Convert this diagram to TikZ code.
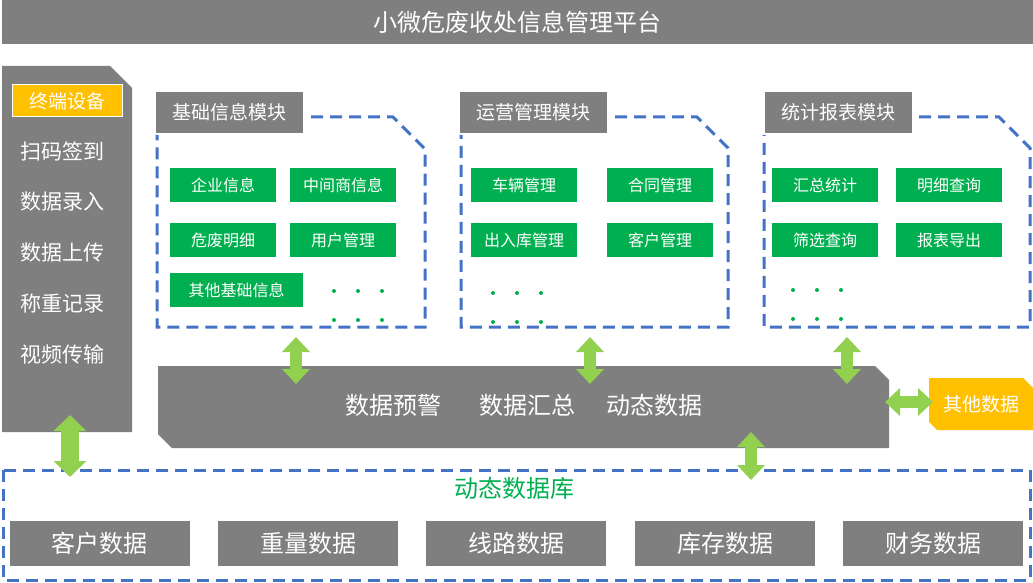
\documentclass[tikz,border=0pt]{standalone}
\usepackage{fontspec}
\setmainfont{Noto Sans CJK SC}
\usetikzlibrary{arrows.meta}
\definecolor{bargray}{HTML}{7F7F7F}
\definecolor{dashblue}{HTML}{4472C4}
\definecolor{boxgreen}{HTML}{00B050}
\definecolor{arrowgreen}{HTML}{92D050}
\definecolor{orangebox}{HTML}{FFC000}
\newcommand{\fs}[1]{\fontsize{#1}{#1}\selectfont}
\begin{document}
\begin{tikzpicture}[x=1pt,y=-1pt,
  graybox/.style={fill=bargray,text=white,inner sep=0pt,outer sep=0pt},
  greenbox/.style={fill=boxgreen,text=white,font=\fs{16},minimum width=106pt,minimum height=34pt,inner sep=0pt,outer sep=0pt},
  modlabel/.style={graybox,font=\fs{19},minimum width=147pt,minimum height=41pt},
  dbbox/.style={graybox,font=\fs{24},minimum width=180pt,minimum height=45pt},
  dashline/.style={draw=dashblue,line width=3pt,dash pattern=on 12pt off 7pt},
  whitetext/.style={text=white,inner sep=0pt},
  greendot/.style={fill=boxgreen},
  dblarrow/.style={draw=arrowgreen,line width=12pt,{Triangle[width=27pt,length=15pt]}-{Triangle[width=27pt,length=15pt]}},
  bigarrow/.style={draw=arrowgreen,line width=18pt,{Triangle[width=32pt,length=16pt]}-{Triangle[width=32pt,length=16pt]}}
]
\useasboundingbox (0,0) rectangle (1033,583);
% title
\node[graybox,font=\fs{24},minimum width=1031pt,minimum height=44pt] (title) at (517.5,22) {小微危废收处信息管理平台};
% left panel
\fill[bargray] (2,66) -- (110,66) -- (132,88) -- (132,432) -- (2,432) -- cycle;
\node[fill=orangebox,draw=white,line width=1pt,text=white,font=\fs{19},minimum width=110pt,minimum height=32pt,inner sep=0pt] (term) at (67,101) {终端设备};
\node[whitetext,font=\fs{21},anchor=west] (l1) at (20,151) {扫码签到};
\node[whitetext,font=\fs{21},anchor=west] (l2) at (20,202) {数据录入};
\node[whitetext,font=\fs{21},anchor=west] (l3) at (20,253) {数据上传};
\node[whitetext,font=\fs{21},anchor=west] (l4) at (20,304) {称重记录};
\node[whitetext,font=\fs{21},anchor=west] (l5) at (20,355) {视频传输};
% module 1
\draw[dashline] (311,117) -- (393,117) -- (425,149) -- (425,327) -- (157,327) -- (157,135);
\node[modlabel] (m1) at (229.5,112.5) {基础信息模块};
\node[greenbox] (m1a) at (223,185) {企业信息};
\node[greenbox] (m1b) at (343,185) {中间商信息};
\node[greenbox] (m1c) at (223,240) {危废明细};
\node[greenbox] (m1d) at (343,240) {用户管理};
\node[greenbox,minimum width=133pt] (m1e) at (236.5,290) {其他基础信息};
\foreach \x in {334,358,382}{\fill[greendot] (\x,291) circle (2pt); \fill[greendot] (\x,320) circle (2pt);}
% module 2
\draw[dashline] (615,117) -- (697,117) -- (728,148) -- (728,327) -- (461,327) -- (461,135);
\node[modlabel] (m2) at (533.5,112.5) {运营管理模块};
\node[greenbox] (m2a) at (524,185) {车辆管理};
\node[greenbox] (m2b) at (660,185) {合同管理};
\node[greenbox] (m2c) at (524,240) {出入库管理};
\node[greenbox] (m2d) at (660,240) {客户管理};
\foreach \x in {493,517,541}{\fill[greendot] (\x,293) circle (2pt); \fill[greendot] (\x,322) circle (2pt);}
% module 3
\draw[dashline] (919,117) -- (999,117) -- (1030,148) -- (1030,327) -- (764,327) -- (764,135);
\node[modlabel] (m3) at (838,112.5) {统计报表模块};
\node[greenbox] (m3a) at (825,185) {汇总统计};
\node[greenbox] (m3b) at (949,185) {明细查询};
\node[greenbox] (m3c) at (825,240) {筛选查询};
\node[greenbox] (m3d) at (949,240) {报表导出};
\foreach \x in {793,817,841}{\fill[greendot] (\x,290) circle (2pt); \fill[greendot] (\x,319) circle (2pt);}
% central bar
\fill[bargray] (158,366) -- (875,366) -- (889,380) -- (889,448) -- (172,448) -- (158,434) -- cycle;
\node[whitetext,font=\fs{24}] (b1) at (393,405) {数据预警};
\node[whitetext,font=\fs{24}] (b2) at (527,405) {数据汇总};
\node[whitetext,font=\fs{24}] (b3) at (654,405) {动态数据};
% other data
\fill[orangebox] (929,378) -- (1023,378) -- (1033,388) -- (1033,430) -- (937,430) -- (929,422) -- cycle;
\node[whitetext,font=\fs{19}] (other) at (981,404) {其他数据};
% database
\draw[dashline] (3,470) rectangle (1030,580);
\node[text=boxgreen,font=\fs{24},inner sep=0pt] (db) at (514,488) {动态数据库};
\node[dbbox] (d1) at (99.5,543.5) {客户数据};
\node[dbbox] (d2) at (308,543.5) {重量数据};
\node[dbbox] (d3) at (516,543.5) {线路数据};
\node[dbbox] (d4) at (725,543.5) {库存数据};
\node[dbbox] (d5) at (933,543.5) {财务数据};
% arrow end points
\coordinate (a1t) at (296,337); \coordinate (a1b) at (296,384);
\coordinate (a2t) at (590,337); \coordinate (a2b) at (590,384);
\coordinate (a3t) at (847,337); \coordinate (a3b) at (847,384);
\coordinate (a4t) at (751,432); \coordinate (a4b) at (751,480);
\coordinate (hl) at (885,402); \coordinate (hr) at (933,402);
\coordinate (lt) at (70,415); \coordinate (lb) at (70,477);
\draw[dblarrow] (a1t) -- (a1b);
\draw[dblarrow] (a2t) -- (a2b);
\draw[dblarrow] (a3t) -- (a3b);
\draw[dblarrow] (a4t) -- (a4b);
\draw[dblarrow] (hl) -- (hr);
\draw[bigarrow] (lt) -- (lb);
\end{tikzpicture}
\end{document}
